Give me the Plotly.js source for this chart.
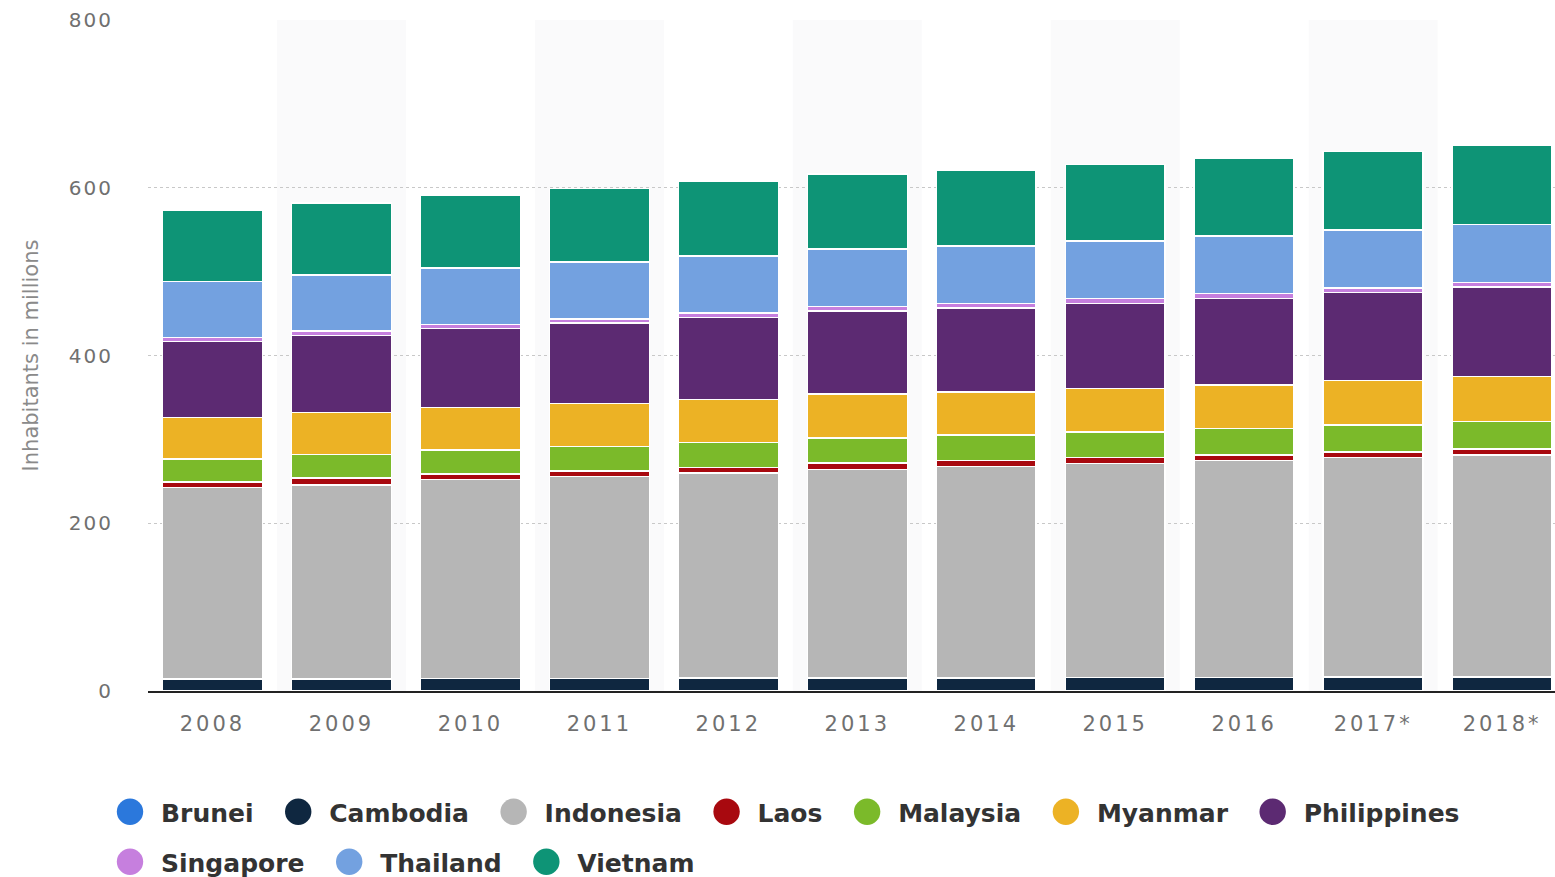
<!DOCTYPE html>
<html>
<head>
<meta charset="utf-8">
<script src="https://cdn.plot.ly/plotly-3.0.1.min.js"></script>
<style>
html,body{margin:0;padding:0;background:#fff;overflow:hidden;}
#chart{width:1555px;height:877px;}
.xtick text{letter-spacing:3px;}
.ytick text{letter-spacing:2px;}
</style>
</head>
<body>
<div id="chart"></div>
<script>
const years = ['2008','2009','2010','2011','2012','2013','2014','2015','2016','2017*','2018*'];

const brunei      = [0.39, 0.39, 0.40, 0.40, 0.41, 0.41, 0.41, 0.42, 0.42, 0.43, 0.43];
const cambodia    = [13.9, 14.1, 14.4, 14.6, 14.9, 15.1, 15.3, 15.5, 15.8, 16.0, 16.2];
const indonesia   = [228.5, 231.4, 237.6, 241.0, 244.8, 248.8, 252.2, 255.5, 258.7, 261.9, 265.0];
const laos        = [6.2, 7.8, 6.4, 6.5, 6.6, 7.5, 6.8, 6.9, 6.6, 6.8, 7.0];
const malaysia    = [27.7, 28.1, 28.6, 29.1, 29.5, 30.0, 30.3, 30.5, 31.2, 32.0, 32.4];
const myanmar     = [49.6, 50.0, 50.5, 51.0, 51.5, 52.0, 51.4, 51.8, 52.3, 52.9, 53.9];
const philippines = [90.5, 92.2, 94.0, 95.9, 97.7, 99.4, 100.1, 101.6, 103.2, 105.0, 106.6];
const singapore   = [4.8, 5.0, 5.1, 5.2, 5.3, 5.4, 5.5, 5.5, 5.6, 5.6, 5.6];
const thailand    = [66.5, 66.9, 67.3, 67.6, 68.0, 68.2, 68.4, 68.6, 68.9, 69.0, 69.2];
const vietnam     = [85.1, 86.0, 86.9, 87.8, 88.8, 89.8, 90.7, 91.7, 92.7, 93.7, 94.7];

const seriesNames  = ['Brunei','Cambodia','Indonesia','Laos','Malaysia','Myanmar','Philippines','Singapore','Thailand','Vietnam'];
const seriesValues = [brunei, cambodia, indonesia, laos, malaysia, myanmar, philippines, singapore, thailand, vietnam];
const seriesColors = ['#2b78dc','#0f2740','#b6b6b6','#a8090f','#7bba2a','#ecb225','#5c2a72','#c67fde','#73a1e0','#0e9476'];
const secondRow    = ['Singapore','Thailand','Vietnam'];

const traces = [];
seriesNames.forEach((name, i) => {
  traces.push({
    type: 'bar',
    name: name,
    x: years,
    y: seriesValues[i],
    marker: {color: seriesColors[i], line: {color: '#ffffff', width: 1.5}},
    showlegend: false,
    hoverinfo: 'x+y+name'
  });
});
seriesNames.forEach((name, i) => {
  traces.push({
    type: 'scatter',
    mode: 'markers',
    name: name + '\u00a0',
    x: [years[0]],
    y: [null],
    marker: {color: seriesColors[i], size: 16, symbol: 'circle'},
    showlegend: true,
    legend: secondRow.includes(name) ? 'legend2' : 'legend',
    hoverinfo: 'skip'
  });
});

const shapes = [];
years.forEach((y, i) => {
  if (i % 2 === 1) {
    shapes.push({
      type: 'rect', xref: 'x', yref: 'paper',
      x0: i - 0.5, x1: i + 0.5, y0: 0, y1: 1,
      fillcolor: '#fafafb', line: {width: 0}, layer: 'below'
    });
  }
});

const legendFont = {family: 'DejaVu Sans', size: 25, color: '#333333', weight: 'bold'};

const layout = {
  width: 1555,
  height: 877,
  margin: {l: 148, r: 0, t: 20, b: 186},
  paper_bgcolor: '#ffffff',
  plot_bgcolor: '#ffffff',
  barmode: 'stack',
  bargap: 0.225,
  showlegend: true,
  shapes: shapes,
  xaxis: {
    type: 'category',
    range: [-0.5, 10.41],
    showgrid: false,
    zeroline: false,
    showline: true,
    linecolor: '#222222',
    linewidth: 2,
    ticks: '',
    ticklabelstandoff: 13,
    tickfont: {family: 'DejaVu Sans', size: 21, color: '#707070'},
    fixedrange: true
  },
  yaxis: {
    range: [0, 800],
    tickvals: [0, 200, 400, 600, 800],
    showgrid: true,
    gridcolor: '#c8c8c8',
    griddash: 'dot',
    gridwidth: 1,
    zeroline: false,
    showline: false,
    ticks: '',
    ticklabelstandoff: 34,
    tickfont: {family: 'DejaVu Sans', size: 20, color: '#707070'},
    title: {text: 'Inhabitants in millions', font: {family: 'DejaVu Sans', size: 21, color: '#8a8a8a'}, standoff: 24},
    automargin: false,
    fixedrange: true
  },
  legend: {
    orientation: 'h',
    xref: 'container', yref: 'container',
    x: 99 / 1555, xanchor: 'left',
    y: 1 - 812 / 877, yanchor: 'middle',
    font: legendFont,
    itemwidth: 52,
    bgcolor: 'rgba(0,0,0,0)',
    traceorder: 'normal'
  },
  legend2: {
    orientation: 'h',
    xref: 'container', yref: 'container',
    x: 99 / 1555, xanchor: 'left',
    y: 1 - 862 / 877, yanchor: 'middle',
    font: legendFont,
    itemwidth: 52,
    bgcolor: 'rgba(0,0,0,0)',
    traceorder: 'normal'
  }
};

Plotly.newPlot('chart', traces, layout, {displayModeBar: false, staticPlot: true}).then(() => {
  document.querySelectorAll('.legendpoints path.scatterpts').forEach(el => {
    const t = el.getAttribute('transform') || '';
    el.setAttribute('transform', t + ' scale(1.65)');
  });
});
</script>
</body>
</html>
